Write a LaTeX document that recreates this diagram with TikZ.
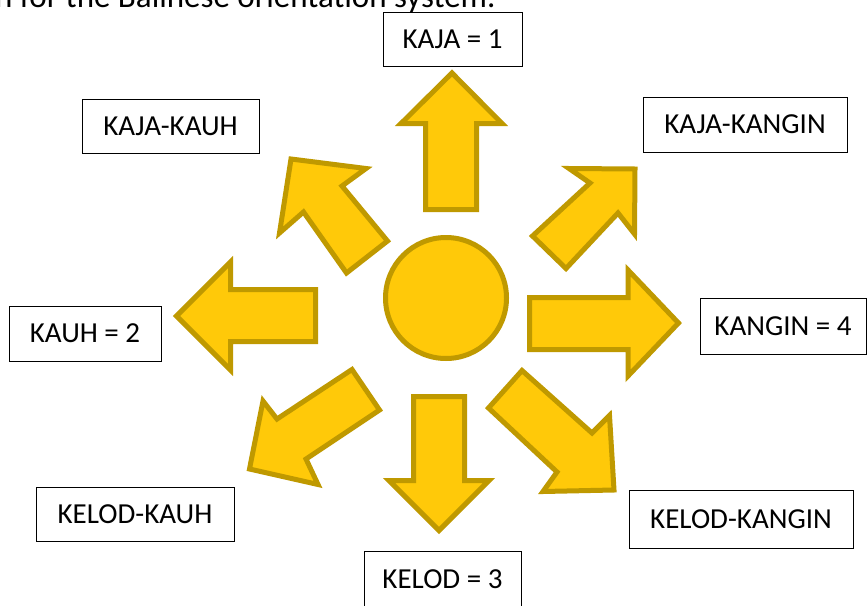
\documentclass[tikz,border=0pt]{standalone}
\usepackage{fontspec}
\setmainfont{Carlito}
\definecolor{afill}{RGB}{255,201,9}
\definecolor{aline}{RGB}{191,153,0}
\tikzset{
  arr/.style={fill=afill, draw=aline, line width=5pt, line join=miter},
  lbl/.style={draw=black, line width=1pt, fill=white, inner sep=0pt, font=\fontsize{29}{31}\selectfont},
}
\begin{document}
\begin{tikzpicture}[x=1pt,y=-1pt]
\clip (0,0) rectangle (867,605);
\node[anchor=base west, inner sep=0pt, font=\fontsize{33}{35}\selectfont] (title) at (-5,8) {n for the Balinese orientation system.};
% arrows
\filldraw[arr] (452,73) -- (502,123.5) -- (476.5,123.5) -- (476.5,209.5) -- (425.5,209.5) -- (425.5,123.5) -- (401,123.5) -- cycle;
\filldraw[arr] (413.5,396.5) -- (464.5,396.5) -- (464.5,480.5) -- (489,480.5) -- (439,530.5) -- (389,480.5) -- (413.5,480.5) -- cycle;
\filldraw[arr] (176.5,316) -- (230.5,262) -- (230.5,289.5) -- (315.5,289.5) -- (315.5,341.5) -- (230.5,341.5) -- (230.5,370) -- cycle;
\filldraw[arr] (529.5,297.5) -- (628,297.5) -- (628,270) -- (678.5,323) -- (628,376) -- (628,349.5) -- (529.5,349.5) -- cycle;
\filldraw[arr] (635,169) -- (634.5,234) -- (618,213) -- (566,268.5) -- (532.5,236) -- (590,183) -- (569,168.5) -- cycle;
\filldraw[arr] (291,159) -- (366,168.5) -- (342,186) -- (387.5,241) -- (346.5,273) -- (303.5,212) -- (279.5,233) -- cycle;
\filldraw[arr] (352,369.5) -- (379.5,410) -- (306,459) -- (318,484.5) -- (249.5,469) -- (263,401) -- (277,419) -- cycle;
\filldraw[arr] (522,370.5) -- (592,433) -- (609.5,415.5) -- (614,490) -- (543,491.5) -- (557,472) -- (488.5,408) -- cycle;
\node[circle, fill=afill, draw=aline, line width=5pt, minimum size=121pt, inner sep=0pt] (sun) at (446,298) {};
% labels
\node[lbl, minimum width=139pt, minimum height=54pt] (kaja) at (452.5,39) {KAJA = 1};
\node[lbl, minimum width=177pt, minimum height=54pt] (kajakauh) at (170.5,126) {KAJA-KAUH};
\node[lbl, minimum width=204pt, minimum height=55pt] (kajakangin) at (745,124.5) {KAJA-KANGIN};
\node[lbl, minimum width=152pt, minimum height=55pt] (kauh) at (85,333.5) {KAUH = 2};
\node[lbl, minimum width=166pt, minimum height=56pt] (kangin) at (783,326) {KANGIN = 4};
\node[lbl, minimum width=198pt, minimum height=54pt] (kelodkauh) at (135,514) {KELOD-KAUH};
\node[lbl, minimum width=224pt, minimum height=58pt] (kelodkangin) at (741,519) {KELOD-KANGIN};
\node[lbl, minimum width=157pt, minimum height=56pt] (kelod) at (442.5,579) {KELOD = 3};
\end{tikzpicture}
\end{document}
